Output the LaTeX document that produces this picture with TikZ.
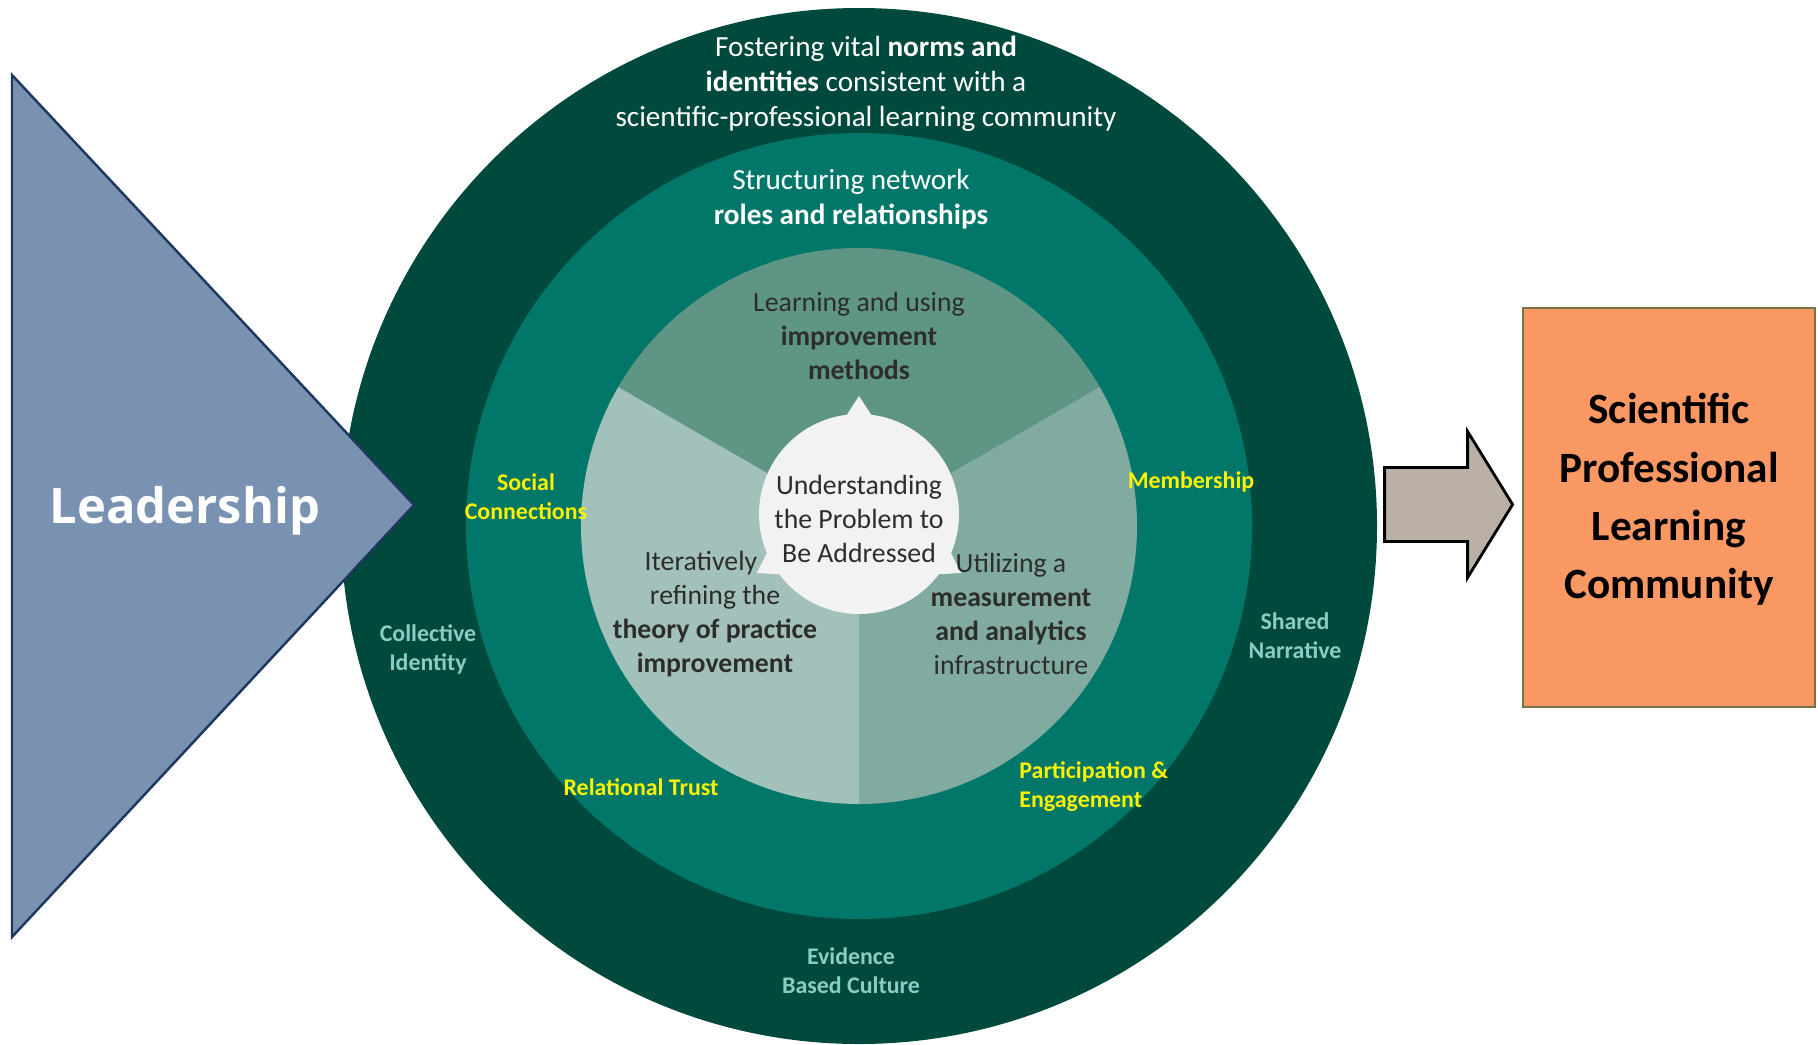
\documentclass[tikz,border=0pt]{standalone}
\usepackage{fontspec}
\setmainfont{Carlito}
\newfontfamily\leadfont{Open Sans}
\usetikzlibrary{calc,positioning}
\definecolor{RingDark}{RGB}{0,73,61}
\definecolor{RingMid}{RGB}{0,119,104}
\definecolor{SecTop}{RGB}{94,149,133}
\definecolor{SecLeft}{RGB}{162,193,186}
\definecolor{SecRight}{RGB}{129,171,161}
\definecolor{CoreWhite}{RGB}{242,242,242}
\definecolor{LeadBlue}{RGB}{122,146,178}
\definecolor{LeadEdge}{RGB}{31,56,96}
\definecolor{ArrowTaupe}{RGB}{186,176,165}
\definecolor{SPLCOrange}{RGB}{250,152,100}
\definecolor{SPLCEdge}{RGB}{118,116,64}
\definecolor{LabelTeal}{RGB}{140,205,195}
\definecolor{TextGray}{RGB}{45,45,45}

\begin{document}
\begin{tikzpicture}[x=0.1mm,y=-0.1mm,
  ringtxt/.style={text=white,align=center,font=\fontsize{8.3}{9.96}\selectfont},
  sectortxt/.style={text=TextGray,align=center,font=\fontsize{7.9}{9.7}\selectfont},
  dimension/.style={text=yellow,align=center,font=\bfseries\fontsize{6.8}{8.25}\selectfont},
  culture/.style={text=LabelTeal,align=center,font=\bfseries\fontsize{6.8}{8.25}\selectfont},
  arrowbody/.style={draw=black,fill=ArrowTaupe,line width=0.8pt,line join=miter},
]
\useasboundingbox (0,0) rectangle (1818,1044);
\coordinate (ctr) at (859,526);
\coordinate (core) at (859,514);
\fill[RingDark] (ctr) circle[radius=518];
\fill[RingMid] (ctr) circle[radius=393];
\fill[SecTop] (ctr) -- ++(-30:278) arc[start angle=-30,end angle=-150,radius=278] -- cycle;
\fill[SecLeft] (ctr) -- ++(-150:278) arc[start angle=-150,end angle=-270,radius=278] -- cycle;
\fill[SecRight] (ctr) -- ++(90:278) arc[start angle=90,end angle=-30,radius=278] -- cycle;
\fill[CoreWhite] (core) circle[radius=100];
\foreach \a in {30,150,270}
  \fill[CoreWhite,shift={(core)}] (\a:118) -- (\a+8:98) -- (\a-8:98) -- cycle;

\draw[LeadEdge,fill=LeadBlue,line width=0.7pt,line join=miter] (12,75) -- (414,505) -- (12,937) -- cycle;
\node[text=white,font=\leadfont\bfseries\fontsize{13.9}{16}\selectfont] (lead) at (185,511) {Leadership};

\node[ringtxt] (norms) at (866,84) {Fostering vital \textbf{norms and}\\\textbf{identities} consistent with a\\scientific-professional learning community};
\node[ringtxt] (roles) at (851,199) {Structuring network\\\textbf{roles and relationships}};
\node[sectortxt] (methods) at (859,336) {Learning and using\\\textbf{improvement}\\\textbf{methods}};
\node[sectortxt] (problem) at (859,519) {Understanding\\the Problem to\\Be Addressed};
\node[sectortxt] (theory) at (715,614) {Iteratively\hspace*{8pt}\\refining the\hspace*{5.5pt}\\\textbf{theory of practice}\\\textbf{improvement}};
\node[sectortxt] (measure) at (1011,614) {Utilizing a\\\textbf{measurement}\\\textbf{and analytics}\\infrastructure};

\node[dimension] (social) at (526,497) {Social\\Connections};
\node[dimension] (member) at (1191,482) {Membership};
\node[dimension] (trust) at (641,787) {Relational Trust};
\node[dimension,align=left,anchor=west] (particip) at (1007,787) {Participation \&\\Engagement};
\node[culture] (collective) at (428,649) {Collective\\Identity};
\node[culture] (shared) at (1295,636) {Shared\\Narrative};
\node[culture] (evidence) at (851,971) {Evidence\\Based Culture};

\node[draw=SPLCEdge,fill=SPLCOrange,line width=0.8pt,minimum width=29.2mm,minimum height=39.9mm,
      text depth=6.5pt,align=center,font=\bfseries\fontsize{12.3}{16.6}\selectfont] (splc) at (1669,507.5)
      {Scientific\\Professional\\Learning\\Community};
\draw[arrowbody] ($(splc.west)+(-9,-3)$) coordinate (arrtip) -- ++(-45,-73) -- ++(0,36) -- ++(-83,0)
  -- ++(0,74) -- ++(83,0) -- ++(0,36) -- cycle;
\end{tikzpicture}
\end{document}
